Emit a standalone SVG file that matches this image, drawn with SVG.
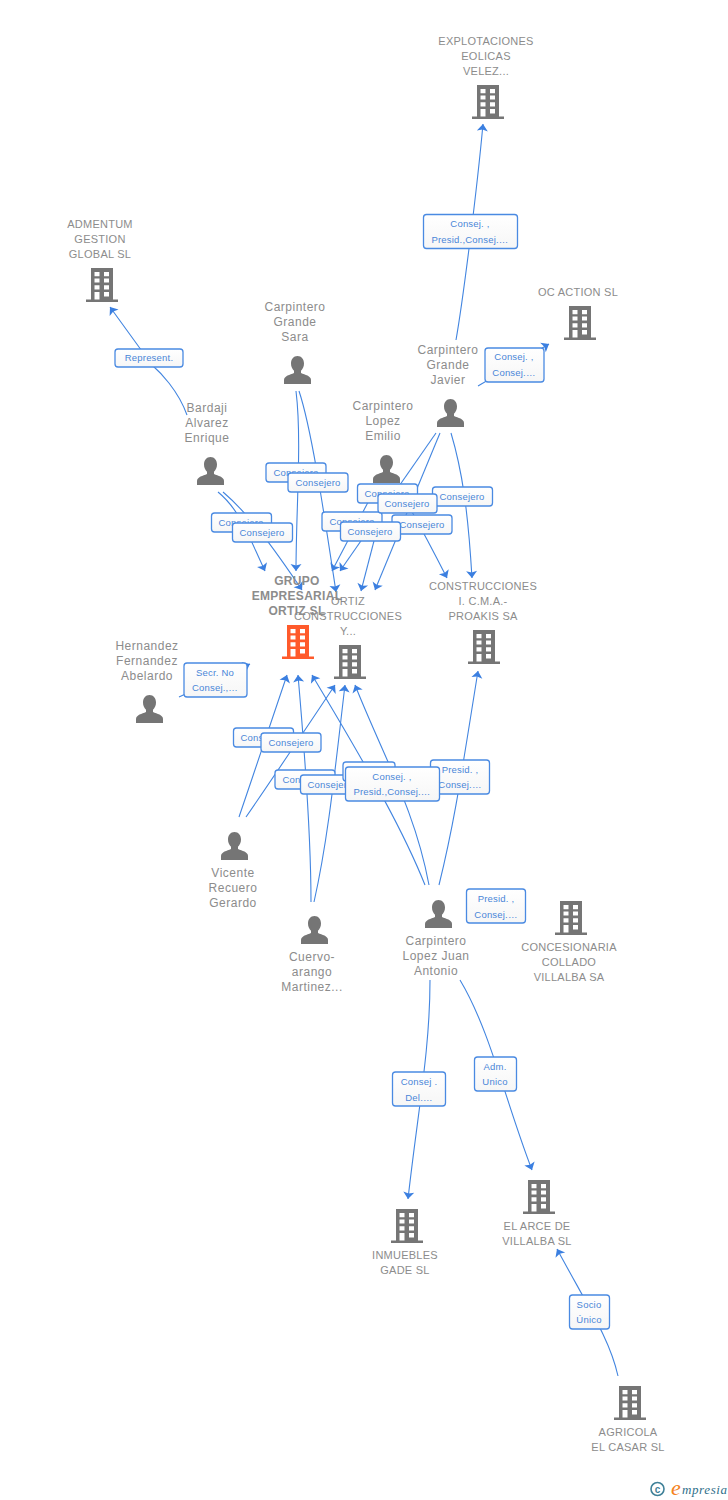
<svg xmlns="http://www.w3.org/2000/svg" width="728" height="1500" viewBox="0 0 728 1500">
<style>
text{font-family:"Liberation Sans",Arial,sans-serif}
.n{font-size:11px;fill:#8c8c8c;text-anchor:middle;letter-spacing:.25px}
.m{font-size:12px;fill:#8c8c8c;text-anchor:middle;letter-spacing:.5px}
.g{font-size:12px;fill:#8c8c8c;text-anchor:middle;font-weight:bold;letter-spacing:.3px}
.l{font-size:9.500px;fill:#4a86d8;text-anchor:middle;letter-spacing:.2px}
.c{fill:none;stroke:#4285e0;stroke-width:1.100;marker-end:url(#a)}
.b{fill:url(#f);stroke:#4a8ae2;stroke-width:1.300}
</style>
<defs>
<linearGradient id="f" x1="0" y1="0" x2="0" y2="1"><stop offset="0" stop-color="#ffffff"/><stop offset="1" stop-color="#f6f6f6"/></linearGradient>
<marker id="a" markerUnits="userSpaceOnUse" markerWidth="14" markerHeight="14" refX="9" refY="7" orient="auto"><path d="M9 7L2 1.500L3.500 7L2 12.500Z" fill="#3b7fe0"/></marker>
<symbol id="bld" viewBox="0 0 32 34" width="32" height="34" overflow="visible"><path fill="#757575" fill-rule="evenodd" d="M5 0H27V31.500H32V34H0V31.500H5ZM8.500 4V8.300H13.500V4ZM18 4V8.300H23V4ZM8.500 10.500V14.500H13.500V10.500ZM18 10.500V14.500H23V10.500ZM8.500 17.300V21.500H13.500V17.300ZM18 17.300V21.500H23V17.300ZM8.500 24V31.500H13.500V24ZM18 24V28.500H23V24Z"/></symbol>
<symbol id="obld" viewBox="0 0 32 34" width="32" height="34" overflow="visible"><path fill="#ff5a2b" fill-rule="evenodd" d="M5 0H27V31.500H32V34H0V31.500H5ZM8.500 4V8.300H13.500V4ZM18 4V8.300H23V4ZM8.500 10.500V14.500H13.500V10.500ZM18 10.500V14.500H23V10.500ZM8.500 17.300V21.500H13.500V17.300ZM18 17.300V21.500H23V17.300ZM8.500 24V31.500H13.500V24ZM18 24V28.500H23V24Z"/></symbol>
<symbol id="per" viewBox="0 0 27 28" width="27" height="28" overflow="visible"><path fill="#757575" d="M13.500 0C17.500 0 20 3.200 20 7.500C20 10.500 18.800 13 17 14.700V17C21 18.800 27 19.800 27 24V28H0V24C0 19.800 6 18.800 10 17V14.700C8.200 13 7 10.500 7 7.500C7 3.200 9.500 0 13.500 0Z"/></symbol>
</defs>
<g id="connectors">
<path class="c" d="M456 340C463 300 477 190 483 124"/>
<path class="c" d="M478 386L549 344"/>
<path class="c" d="M187 415C178 390 160 372 152 365L110 307"/>
<path class="c" d="M296 391C302 440 296 510 296 571"/>
<path class="c" d="M299 391C312 430 325 520 336 592"/>
<path class="c" d="M218 492C240 510 248 535 265 571"/>
<path class="c" d="M223 492C250 515 275 550 302 590"/>
<path class="c" d="M376 487L332 571"/>
<path class="c" d="M436 433L340 571"/>
<path class="c" d="M388 487L361 591"/>
<path class="c" d="M440 433L375 590"/>
<path class="c" d="M398 487Q420 525 447 578"/>
<path class="c" d="M451 433C462 470 468 510 472 578"/>
<path class="c" d="M239 817C255 770 270 725 287 675"/>
<path class="c" d="M246 817C275 775 305 730 335 685"/>
<path class="c" d="M311 902C311 850 308 790 298 675"/>
<path class="c" d="M314 902C328 840 335 770 345 685"/>
<path class="c" d="M425 885C405 835 375 780 312 675"/>
<path class="c" d="M429 885C415 810 385 760 355 685"/>
<path class="c" d="M439 885C455 820 462 770 478 671"/>
<path class="c" d="M179 697L250 664"/>
<path class="c" d="M430 980C430 1050 418 1110 408 1199"/>
<path class="c" d="M460 980C490 1030 505 1100 532 1170"/>
<path class="c" d="M618 1376C610 1340 590 1310 557 1249"/>
</g>
<g id="edge-labels">
<g><rect class="b" x="423.500" y="214.500" width="94" height="34" rx="3"/><text class="l" x="470" y="227">Consej. ,</text><text class="l" x="470" y="243">Presid.,Consej.…</text></g>
<g><rect class="b" x="485" y="348" width="59" height="34" rx="3"/><text class="l" x="514" y="360">Consej. ,</text><text class="l" x="514" y="376">Consej.…</text></g>
<g><rect class="b" x="115" y="349" width="68" height="18" rx="3"/><text class="l" x="149" y="361">Represent.</text></g>
<g><rect class="b" x="266" y="463" width="60" height="19" rx="3"/><text class="l" x="296" y="476">Consejero</text></g>
<g><rect class="b" x="288" y="473" width="60" height="19" rx="3"/><text class="l" x="318" y="486">Consejero</text></g>
<g><rect class="b" x="211.500" y="513" width="60" height="19" rx="3"/><text class="l" x="241" y="526">Consejero</text></g>
<g><rect class="b" x="232.500" y="523" width="60" height="19" rx="3"/><text class="l" x="262" y="536">Consejero</text></g>
<g><rect class="b" x="357.500" y="484" width="60" height="19" rx="3"/><text class="l" x="387" y="497">Consejero</text></g>
<g><rect class="b" x="432.500" y="487" width="60" height="19" rx="3"/><text class="l" x="462" y="500">Consejero</text></g>
<g><rect class="b" x="322" y="512" width="60" height="19" rx="3"/><text class="l" x="352" y="525">Consejero</text></g>
<g><rect class="b" x="392" y="515" width="60" height="19" rx="3"/><text class="l" x="422" y="528">Consejero</text></g>
<g><rect class="b" x="378" y="494" width="59" height="19" rx="3"/><text class="l" x="407" y="507">Consejero</text></g>
<g><rect class="b" x="340.500" y="522" width="60" height="19" rx="3"/><text class="l" x="370" y="535">Consejero</text></g>
<g><rect class="b" x="184" y="663" width="63" height="34" rx="3"/><text class="l" x="215" y="676">Secr.  No</text><text class="l" x="215" y="691">Consej.,…</text></g>
<g><rect class="b" x="233.500" y="728" width="60" height="19" rx="3"/><text class="l" x="263" y="741">Consejero</text></g>
<g><rect class="b" x="261" y="733" width="60" height="19" rx="3"/><text class="l" x="291" y="746">Consejero</text></g>
<g><rect class="b" x="275" y="770" width="60" height="19" rx="3"/><text class="l" x="305" y="783">Consejero</text></g>
<g><rect class="b" x="300.500" y="775" width="60" height="19" rx="3"/><text class="l" x="330" y="788">Consejero</text></g>
<g><rect class="b" x="430.500" y="760" width="59" height="34" rx="3"/><text class="l" x="460" y="773">Presid. ,</text><text class="l" x="460" y="788">Consej.…</text></g>
<g><rect class="b" x="343" y="762" width="52" height="19" rx="3"/></g>
<g><rect class="b" x="345.500" y="767" width="94" height="34" rx="3"/><text class="l" x="392" y="780">Consej. ,</text><text class="l" x="392" y="795">Presid.,Consej.…</text></g>
<g><rect class="b" x="466.500" y="889" width="59" height="34" rx="3"/><text class="l" x="496" y="902">Presid. ,</text><text class="l" x="496" y="918">Consej.…</text></g>
<g><rect class="b" x="392.500" y="1072" width="53" height="34" rx="3"/><text class="l" x="419" y="1085">Consej .</text><text class="l" x="419" y="1101">Del.…</text></g>
<g><rect class="b" x="474.500" y="1057" width="42" height="34" rx="3"/><text class="l" x="495" y="1070">Adm.</text><text class="l" x="495" y="1085">Unico</text></g>
<g><rect class="b" x="569.500" y="1295" width="40" height="34" rx="3"/><text class="l" x="589" y="1308">Socio</text><text class="l" x="589" y="1323">Único</text></g>
</g>
<g id="n-explotaciones"><text class="n" x="486" y="45">EXPLOTACIONES</text><text class="n" x="486" y="60">EOLICAS</text><text class="n" x="486" y="75">VELEZ...</text><use href="#bld" x="472" y="85"/></g>
<g id="n-admentum"><text class="n" x="100" y="228">ADMENTUM</text><text class="n" x="100" y="243">GESTION</text><text class="n" x="100" y="258">GLOBAL SL</text><use href="#bld" x="86" y="268"/></g>
<g id="n-ocaction"><text class="n" x="578" y="296">OC ACTION SL</text><use href="#bld" x="564" y="306"/></g>
<g id="n-sara"><text class="m" x="295" y="311">Carpintero</text><text class="m" x="295" y="326">Grande</text><text class="m" x="295" y="341">Sara</text><use href="#per" x="284" y="356"/></g>
<g id="n-javier"><text class="m" x="448" y="354">Carpintero</text><text class="m" x="448" y="369">Grande</text><text class="m" x="448" y="384">Javier</text><use href="#per" x="437" y="399"/></g>
<g id="n-bardaji"><text class="m" x="207" y="412">Bardaji</text><text class="m" x="207" y="427">Alvarez</text><text class="m" x="207" y="442">Enrique</text><use href="#per" x="197" y="457"/></g>
<g id="n-emilio"><text class="m" x="383" y="410">Carpintero</text><text class="m" x="383" y="425">Lopez</text><text class="m" x="383" y="440">Emilio</text><use href="#per" x="373" y="455"/></g>
<g id="n-grupo"><text class="g" x="297" y="585">GRUPO</text><text class="g" x="297" y="600">EMPRESARIAL</text><text class="g" x="297" y="615">ORTIZ SL</text><use href="#obld" x="282" y="625"/></g>
<g id="n-ortiz"><text class="n" x="348" y="605">ORTIZ</text><text class="n" x="348" y="620">CONSTRUCCIONES</text><text class="n" x="348" y="635">Y...</text><use href="#bld" x="334" y="645"/></g>
<g id="n-proakis"><text class="n" x="483" y="590">CONSTRUCCIONES</text><text class="n" x="483" y="605">I. C.M.A.-</text><text class="n" x="483" y="620">PROAKIS SA</text><use href="#bld" x="468" y="630"/></g>
<g id="n-hernandez"><text class="m" x="147" y="650">Hernandez</text><text class="m" x="147" y="665">Fernandez</text><text class="m" x="147" y="680">Abelardo</text><use href="#per" x="136" y="695"/></g>
<g id="n-vicente"><use href="#per" x="221" y="832"/><text class="m" x="233" y="877">Vicente</text><text class="m" x="233" y="892">Recuero</text><text class="m" x="233" y="907">Gerardo</text></g>
<g id="n-cuervo"><use href="#per" x="301" y="916"/><text class="m" x="312" y="961">Cuervo-</text><text class="m" x="312" y="976">arango</text><text class="m" x="312" y="991">Martinez...</text></g>
<g id="n-juan"><use href="#per" x="425" y="900"/><text class="m" x="436" y="945">Carpintero</text><text class="m" x="436" y="960">Lopez Juan</text><text class="m" x="436" y="975">Antonio</text></g>
<g id="n-concesionaria"><use href="#bld" x="555" y="901"/><text class="n" x="569" y="951">CONCESIONARIA</text><text class="n" x="569" y="966">COLLADO</text><text class="n" x="569" y="981">VILLALBA SA</text></g>
<g id="n-inmuebles"><use href="#bld" x="391" y="1209"/><text class="n" x="405" y="1259">INMUEBLES</text><text class="n" x="405" y="1274">GADE SL</text></g>
<g id="n-arce"><use href="#bld" x="523" y="1180"/><text class="n" x="537" y="1230">EL ARCE DE</text><text class="n" x="537" y="1245">VILLALBA SL</text></g>
<g id="n-agricola"><use href="#bld" x="614" y="1386"/><text class="n" x="628" y="1436">AGRICOLA</text><text class="n" x="628" y="1451">EL CASAR SL</text></g>
<g id="logo"><circle cx="657.500" cy="1489" r="6.500" fill="none" stroke="#3f8098" stroke-width="1.600"/><text x="657.500" y="1492.500" font-size="10" font-weight="bold" fill="#3f8098" text-anchor="middle">c</text><text x="671" y="1495" font-size="22" font-style="italic" fill="#f58220" style="font-family:'Liberation Serif',serif">e</text><text x="682" y="1494" font-size="13" font-style="italic" fill="#2f6f8a" letter-spacing=".6" style="font-family:'Liberation Serif',serif">mpresia</text></g>
</svg>
